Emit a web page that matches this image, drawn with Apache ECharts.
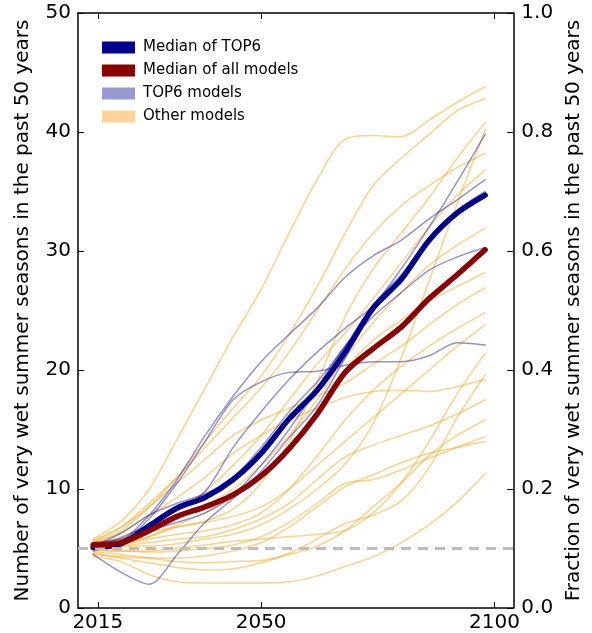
<!DOCTYPE html>
<html>
<head>
<meta charset="utf-8">
<script src="https://cdn.jsdelivr.net/npm/echarts@6/dist/echarts.min.js"></script>
<style>
  html, body { margin: 0; padding: 0; background: #fff; }
  #chart { width: 592px; height: 633px; }
</style>
</head>
<body>
<div id="chart"></div>
<script>
// Sample years (end year of each 50-year window)
const years = [2014, 2020, 2026, 2032, 2038, 2044, 2050, 2056, 2062, 2068, 2074, 2080, 2086, 2092, 2098];

// Tick labels
const xTicks = [2015, 2050, 2100];

// Medians
const top6Median = [5.1, 5.4, 6.9, 8.4, 9.3, 10.8, 13.0, 15.9, 18.3, 21.5, 25.2, 27.6, 30.9, 33.2, 34.7];
const allMedian  = [5.3, 5.5, 6.5, 7.7, 8.5, 9.5, 11.1, 13.4, 16.3, 19.8, 21.8, 23.6, 26.0, 28.0, 30.1];

// Individual TOP6 models
const top6A = [4.5, 3.0, 2.0, 4.5, 7.2, 9.2, 11.5, 14.3, 17.0, 21.0, 25.0, 27.8, 31.0, 33.4, 35.0];
const top6B = [5.0, 5.6, 7.8, 10.8, 14.5, 17.8, 20.7, 23.0, 25.2, 27.8, 29.6, 30.9, 32.7, 34.3, 36.0];
const top6C = [5.2, 5.9, 7.0, 8.2, 9.8, 13.5, 16.5, 19.2, 21.5, 23.5, 25.4, 28.5, 32.0, 35.8, 39.8];
const top6D = [5.5, 5.8, 6.5, 7.2, 8.0, 9.5, 12.0, 15.0, 18.5, 22.0, 24.5, 26.5, 28.4, 29.5, 30.3];
const top6E = [4.8, 5.5, 7.5, 10.5, 14.0, 17.5, 19.0, 19.8, 19.9, 20.4, 20.7, 20.7, 21.2, 22.3, 22.1];
const top6F = [5.2, 6.3, 7.8, 8.8, 9.6, 11.0, 13.5, 16.5, 19.0, 22.0, 25.5, 28.0, 31.0, 33.0, 34.5];

// Other models
const other01 = [5.8, 7.3, 10.0, 14.2, 18.5, 22.8, 26.8, 31.5, 36.0, 39.4, 39.7, 39.6, 41.0, 42.5, 43.8];
const other02 = [5.5, 6.5, 8.5, 11.0, 14.0, 16.8, 19.5, 23.0, 27.0, 31.5, 35.5, 37.8, 39.8, 41.8, 42.8];
const other03 = [5.0, 5.4, 6.0, 6.8, 7.3, 8.3, 10.5, 14.0, 19.0, 24.5, 28.5, 31.5, 34.5, 37.8, 40.8];
const other04 = [5.3, 5.2, 5.2, 5.4, 5.8, 6.2, 7.0, 8.3, 10.0, 12.1, 15.5, 21.0, 27.5, 34.0, 40.2];
const other05 = [5.7, 6.8, 8.8, 11.0, 13.5, 16.0, 18.5, 21.5, 25.0, 28.5, 31.5, 33.8, 35.5, 37.0, 38.2];
const other06 = [5.4, 6.0, 7.0, 8.3, 9.8, 12.0, 14.5, 17.5, 20.5, 23.1, 26.0, 29.0, 32.0, 34.7, 36.8];
const other07 = [5.1, 5.6, 6.4, 7.5, 8.6, 10.0, 12.0, 14.5, 17.5, 21.0, 24.0, 26.5, 28.8, 30.5, 31.9];
const other08 = [4.9, 5.3, 6.0, 7.0, 8.0, 9.3, 11.0, 13.5, 16.5, 20.0, 22.5, 24.2, 25.8, 27.0, 28.2];
const other09 = [5.6, 6.8, 8.5, 10.5, 12.5, 14.5, 15.8, 16.8, 17.8, 18.9, 20.5, 22.0, 23.8, 25.5, 26.9];
const other10 = [5.0, 5.3, 5.8, 6.2, 6.5, 7.0, 8.0, 10.0, 12.8, 15.8, 18.3, 20.3, 22.0, 23.5, 24.8];
const other11 = [5.3, 5.8, 6.4, 6.8, 7.2, 7.7, 8.5, 10.0, 12.0, 14.0, 16.0, 18.0, 20.0, 22.0, 23.8];
const other12 = [5.0, 4.8, 4.8, 5.0, 5.3, 5.6, 5.8, 6.0, 6.2, 6.5, 8.0, 10.5, 14.0, 18.0, 21.4];
const other13 = [4.6, 4.2, 3.8, 3.4, 3.2, 3.3, 3.8, 4.6, 5.8, 7.1, 7.8, 9.0, 11.8, 16.0, 19.6];
const other14 = [5.5, 6.3, 7.8, 9.3, 11.0, 13.0, 14.5, 15.8, 16.8, 17.7, 18.2, 18.3, 18.2, 18.6, 19.2];
const other15 = [4.9, 5.2, 5.5, 5.8, 6.0, 6.6, 7.5, 8.8, 10.8, 12.7, 13.7, 14.5, 15.3, 16.3, 17.5];
const other16 = [4.8, 4.8, 4.7, 4.8, 5.0, 5.3, 6.0, 7.2, 8.8, 10.5, 10.8, 11.6, 12.6, 13.5, 14.4];
const other17 = [4.5, 4.3, 4.2, 4.2, 4.4, 4.8, 5.5, 6.8, 8.5, 10.2, 11.2, 12.2, 13.0, 13.5, 14.0];
const other18 = [4.7, 4.5, 4.2, 3.9, 3.8, 3.9, 4.0, 4.5, 5.2, 6.5, 8.5, 10.5, 12.8, 14.5, 15.8];
const other19 = [4.3, 3.9, 2.8, 2.2, 2.1, 2.1, 2.1, 2.2, 2.7, 3.5, 4.3, 5.5, 7.0, 8.9, 11.3];

// Reference level (5 of 50 seasons)
const baseline = 5;

const top6Models = [top6A, top6B, top6C, top6D, top6E, top6F];
const otherModels = [other01, other02, other03, other04, other05, other06, other07, other08, other09, other10,
                     other11, other12, other13, other14, other15, other16, other17, other18, other19];

const NAVY = '#00008b';
const DARKRED = '#8b0000';
const TOP6_LINE = 'rgba(0,0,139,0.42)';
const OTHER_LINE = 'rgba(255,155,0,0.45)';
const FONT = 'DejaVu Sans';

function lineSeries(name, values, color, width, z) {
  return {
    type: 'line',
    name: name,
    data: years.map((yr, i) => [yr, values[i]]),
    showSymbol: false,
    symbol: 'none',
    smooth: 0.3,
    lineStyle: { color: color, width: width, cap: 'round', join: 'round' },
    itemStyle: { color: color },
    z: z,
    silent: true,
    animation: false
  };
}

const series = [];
otherModels.forEach((vals, i) => {
  const s = lineSeries('Other models', vals, OTHER_LINE, 1.5, 2);
  if (i === 0) {
    s.markLine = {
      silent: true,
      symbol: ['none', 'none'],
      label: { show: false },
      lineStyle: { color: '#bdbdbd', width: 3, type: [10, 7] },
      data: [{ yAxis: baseline }],
      animation: false
    };
  }
  series.push(s);
});
top6Models.forEach(vals => series.push(lineSeries('TOP6 models', vals, TOP6_LINE, 1.5, 3)));
series.push(lineSeries('Median of TOP6', top6Median, NAVY, 5.5, 4));
series.push(lineSeries('Median of all models', allMedian, DARKRED, 5.5, 5));

const axisLine = { show: true, onZero: false, lineStyle: { color: '#000', width: 1.5 } };
const tick = { show: true, inside: true, length: 6, lineStyle: { color: '#000', width: 1 } };

const chart = echarts.init(document.getElementById('chart'), null, { renderer: 'canvas' });
chart.setOption({
  animation: false,
  backgroundColor: '#fff',
  grid: { left: 78, right: 75, top: 13, bottom: 25, containLabel: false },
  legend: {
    orient: 'vertical',
    left: 97,
    top: 35,
    icon: 'rect',
    itemWidth: 33,
    itemHeight: 12,
    itemGap: 8,
    selectedMode: false,
    textStyle: { fontFamily: FONT, fontSize: 15, color: '#000', padding: [0, 0, 0, 3] },
    data: [
      { name: 'Median of TOP6', itemStyle: { color: NAVY } },
      { name: 'Median of all models', itemStyle: { color: DARKRED } },
      { name: 'TOP6 models', itemStyle: { color: '#9999d1' } },
      { name: 'Other models', itemStyle: { color: '#ffd399' } }
    ]
  },
  xAxis: [
    {
      type: 'value',
      position: 'bottom',
      min: 2010.75,
      max: 2104.04,
      axisLine: axisLine,
      axisTick: Object.assign({}, tick, { customValues: xTicks }),
      axisLabel: { customValues: xTicks, fontFamily: FONT, fontSize: 20, color: '#000', margin: 5,
                   formatter: v => String(Math.round(v)) },
      splitLine: { show: false }
    },
    {
      type: 'value',
      position: 'top',
      min: 2010.75,
      max: 2104.04,
      axisLine: axisLine,
      axisTick: Object.assign({}, tick, { customValues: xTicks }),
      axisLabel: { show: false },
      splitLine: { show: false }
    }
  ],
  yAxis: [
    {
      type: 'value',
      position: 'left',
      min: 0,
      max: 50,
      interval: 10,
      name: 'Number of very wet summer seasons in the past 50 years',
      nameLocation: 'middle',
      nameGap: 45,
      nameTextStyle: { fontFamily: FONT, fontSize: 20, color: '#000' },
      axisLine: axisLine,
      axisTick: tick,
      axisLabel: { fontFamily: FONT, fontSize: 20, color: '#000', margin: 7 },
      splitLine: { show: false }
    },
    {
      type: 'value',
      position: 'right',
      min: 0,
      max: 1,
      interval: 0.2,
      name: 'Fraction of very wet summer seasons in the past 50 years',
      nameLocation: 'middle',
      nameGap: 48,
      nameRotate: 90,
      nameTextStyle: { fontFamily: FONT, fontSize: 20, color: '#000' },
      axisLine: axisLine,
      axisTick: tick,
      axisLabel: { fontFamily: FONT, fontSize: 20, color: '#000', margin: 8, formatter: v => v.toFixed(1) },
      splitLine: { show: false }
    }
  ],
  series: series
});
</script>
</body>
</html>
